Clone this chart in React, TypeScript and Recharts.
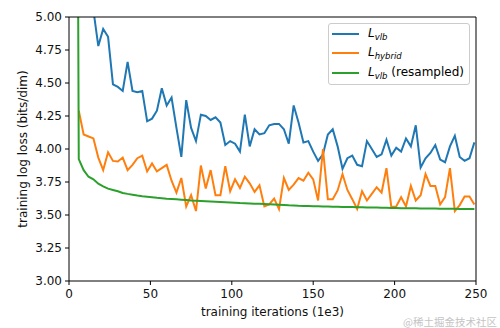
import React from 'react'
import { LineChart, Line, XAxis, YAxis, ReferenceLine, Legend } from 'recharts'

// training iterations (1e3); the first entry is where the curves start off-scale
const iters = [
  5, 6, 9, 12, 15, 18, 21, 24, 27, 30, 33, 36, 39, 42, 45, 48, 51, 54, 57, 60,
  63, 66, 69, 72, 75, 78, 81, 84, 87, 90, 93, 96, 99, 102, 105, 108, 111, 114, 117, 120,
  123, 126, 129, 132, 135, 138, 141, 144, 147, 150, 153, 156, 159, 162, 165, 168, 171, 174, 177, 180,
  183, 186, 189, 192, 195, 198, 201, 204, 207, 210, 213, 216, 219, 222, 225, 228, 231, 234, 237, 240,
  243, 246, 249,
]

const vlb = [
  7.0, 6.5, 5.8, 5.4, 5.05, 4.78, 4.91, 4.85, 4.49, 4.47, 4.44, 4.66, 4.44, 4.43, 4.44, 4.21, 4.23, 4.29, 4.46, 4.33,
  4.39, 4.16, 3.94, 4.37, 4.16, 4.06, 4.26, 4.25, 4.22, 4.24, 4.2, 4.03, 4.06, 4.04, 3.98, 4.26, 4.02, 4.15, 4.11, 4.12,
  4.18, 4.19, 4.19, 4.15, 4.04, 4.33, 4.2, 4.05, 4.06, 3.98, 3.91, 3.96, 4.11, 4.15, 4.02, 3.85, 3.93, 3.95, 3.88, 3.87,
  4.06, 4.0, 3.94, 3.96, 4.07, 3.95, 4.01, 3.98, 4.08, 4.02, 4.18, 3.86, 3.93, 3.97, 4.03, 3.92, 3.9, 4.02, 4.1, 3.94,
  3.91, 3.93, 4.05,
]

const hybrid = [
  null, 4.29, 4.11, 4.095, 4.08, 3.935, 3.84, 3.975, 3.91, 3.905, 3.935, 3.84, 3.88, 3.93, 3.95, 3.83, 3.89, 3.83, 3.855, 3.88,
  3.76, 3.67, 3.78, 3.565, 3.65, 3.53, 3.875, 3.7, 3.84, 3.65, 3.65, 3.87, 3.68, 3.77, 3.705, 3.79, 3.74, 3.675, 3.725, 3.565,
  3.58, 3.625, 3.545, 3.78, 3.69, 3.73, 3.78, 3.76, 3.82, 3.77, 3.61, 4.0, 3.62, 3.62, 3.686, 3.81, 3.69, 3.62, 3.545, 3.68,
  3.61, 3.66, 3.71, 3.67, 3.855, 3.56, 3.565, 3.635, 3.565, 3.72, 3.61, 3.65, 3.81, 3.72, 3.72, 3.58, 3.635, 3.855, 3.53, 3.575,
  3.64, 3.64, 3.58,
]

const vlbResampled = [
  7.0, 3.924, 3.84, 3.79, 3.77, 3.737, 3.717, 3.7, 3.69, 3.68, 3.667, 3.66, 3.654, 3.647, 3.642, 3.638, 3.634, 3.63, 3.627, 3.624,
  3.622, 3.619, 3.616, 3.613, 3.61, 3.608, 3.606, 3.604, 3.602, 3.6, 3.598, 3.596, 3.594, 3.592, 3.59, 3.589, 3.588, 3.586, 3.585, 3.583,
  3.581, 3.579, 3.577, 3.575, 3.573, 3.572, 3.57, 3.569, 3.568, 3.567, 3.566, 3.565, 3.564, 3.563, 3.562, 3.561, 3.56, 3.56, 3.559, 3.558,
  3.557, 3.556, 3.556, 3.555, 3.554, 3.553, 3.553, 3.552, 3.552, 3.551, 3.551, 3.55, 3.55, 3.549, 3.549, 3.548, 3.548, 3.547, 3.547, 3.546,
  3.546, 3.545, 3.545,
]

const xTicks = [0, 50, 100, 150, 200, 250]
const yTicks = [3, 3.25, 3.5, 3.75, 4, 4.25, 4.5, 4.75, 5]

const BLUE = '#1f77b4'
const ORANGE = '#ff7f0e'
const GREEN = '#2ca02c'
const FONT = 'DejaVu Sans, sans-serif'

const data = iters.map((it, i) => ({
  iter: it,
  vlb: vlb[i],
  hybrid: hybrid[i],
  resampled: vlbResampled[i],
}))

const legendRows = [
  { color: BLUE, sub: 'vlb', extra: '' },
  { color: ORANGE, sub: 'hybrid', extra: '' },
  { color: GREEN, sub: 'vlb', extra: ' (resampled)' },
]

function LegendBox() {
  return (
    <div
      style={{
        boxSizing: 'border-box',
        width: 142,
        height: 62,
        border: '1px solid #cccccc',
        borderRadius: 3,
        background: 'rgba(255,255,255,0.8)',
        paddingTop: 0,
        paddingLeft: 3,
        fontFamily: FONT,
        fontSize: 12,
        color: '#000',
      }}
    >
      {legendRows.map((r) => (
        <div key={r.sub + r.extra} style={{ display: 'flex', alignItems: 'center', height: 19.5 }}>
          <svg width={27} height={4} style={{ marginRight: 9 }}>
            <line x1={0} y1={2} x2={27} y2={2} stroke={r.color} strokeWidth={2} />
          </svg>
          <span style={{ whiteSpace: 'nowrap' }}>
            <i>L</i>
            <sub style={{ fontSize: 8.5, fontStyle: 'italic', verticalAlign: -3 }}>{r.sub}</sub>
            {r.extra}
          </span>
        </div>
      ))}
    </div>
  )
}

export default function App() {
  const tickStyle = { fontSize: 12, fill: '#111', fontFamily: FONT }
  return (
    <div style={{ position: 'absolute', left: 0, top: 0, width: 500, height: 328, background: '#fff' }}>
      <LineChart width={500} height={328} data={data} margin={{ top: 17, right: 24, bottom: 0, left: 0 }}>
        <XAxis
          dataKey="iter"
          type="number"
          domain={[0, 250]}
          ticks={xTicks}
          allowDataOverflow
          stroke="#000"
          tick={tickStyle}
          tickSize={4}
          tickMargin={4}
          height={47}
          label={{
            value: 'training iterations (1e3)',
            position: 'insideBottom',
            offset: 12.5,
            style: { fontSize: 12, fill: '#111', fontFamily: FONT },
          }}
        />
        <YAxis
          type="number"
          domain={[3, 5]}
          ticks={yTicks}
          allowDataOverflow
          stroke="#000"
          width={69}
          tick={tickStyle}
          tickSize={4}
          tickMargin={3}
          tickFormatter={(v: number) => v.toFixed(2)}
          label={{
            value: 'training log loss (bits/dim)',
            angle: -90,
            position: 'insideLeft',
            offset: 23,
            style: { fontSize: 12, fill: '#111', fontFamily: FONT, textAnchor: 'middle' },
          }}
        />
        <Line type="linear" dataKey="vlb" stroke={BLUE} strokeWidth={2} dot={false} isAnimationActive={false} />
        <Line type="linear" dataKey="hybrid" stroke={ORANGE} strokeWidth={2} dot={false} isAnimationActive={false} />
        <Line type="linear" dataKey="resampled" stroke={GREEN} strokeWidth={2} dot={false} isAnimationActive={false} />
        {/* top and right spines */}
        <ReferenceLine y={5} stroke="#000" strokeWidth={1} />
        <ReferenceLine x={250} stroke="#000" strokeWidth={1} />
        <Legend
          layout="vertical"
          align="center"
          verticalAlign="middle"
          content={<LegendBox />}
          wrapperStyle={{ left: 328, top: 23, width: 142, height: 62 }}
        />
      </LineChart>
      <div
        style={{
          position: 'absolute',
          left: 403,
          top: 314,
          fontSize: 10.5,
          color: '#c4c4c4',
          fontFamily: '"Noto Sans CJK SC", sans-serif',
          whiteSpace: 'nowrap',
        }}
      >
        @稀土掘金技术社区
      </div>
    </div>
  )
}
